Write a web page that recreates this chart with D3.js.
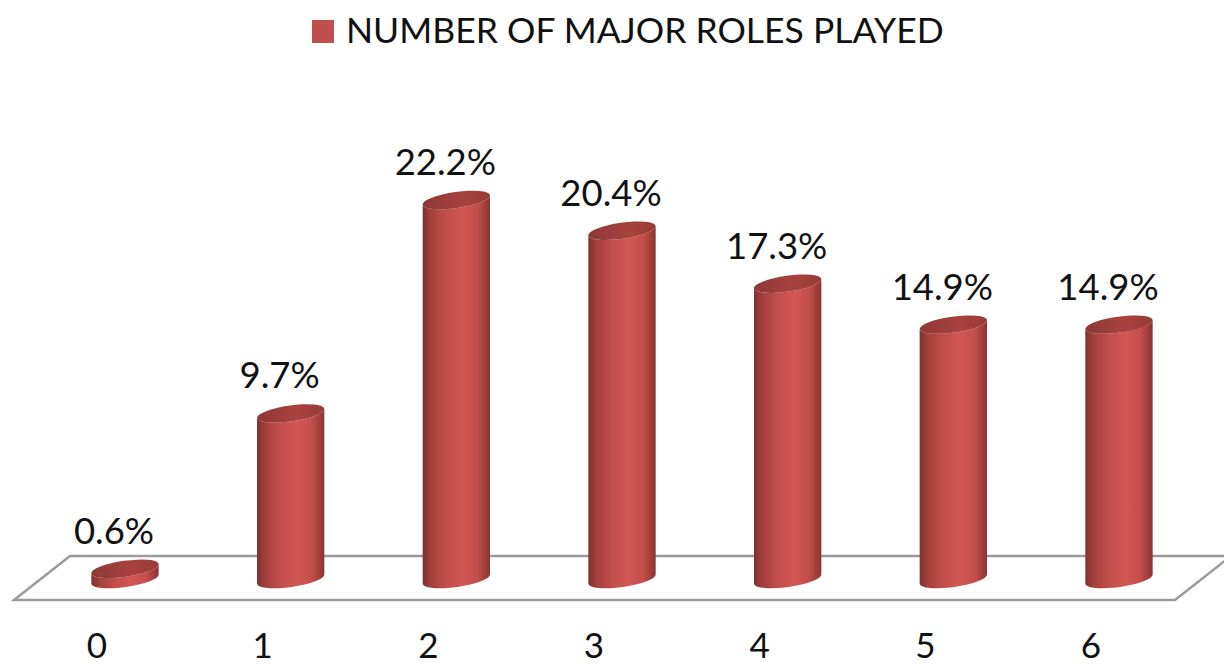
<!DOCTYPE html>
<html><head><meta charset="utf-8">
<script src="https://cdn.jsdelivr.net/npm/d3@7"></script>
<style>html,body{margin:0;padding:0;background:#fff;}svg{display:block;}</style>
</head><body>
<script>
const categories = ["0","1","2","3","4","5","6"];
const values = [0.6, 9.7, 22.2, 20.4, 17.3, 14.9, 14.9];
const valueLabels = ["0.6%","9.7%","22.2%","20.4%","17.3%","14.9%","14.9%"];
const seriesName = "NUMBER OF MAJOR ROLES PLAYED";

const W = 1224, H = 666;
const svg = d3.select("body").append("svg").attr("width", W).attr("height", H);
const font = "Lato, 'Open Sans', sans-serif";

const x = d3.scalePoint().domain(categories).range([125, 1119]);
const base = 579;
const y = d3.scaleLinear().domain([0, 22.2]).range([base, 200]);

const defs = svg.append("defs");
const g = defs.append("linearGradient").attr("id","cyl").attr("x1","0").attr("x2","1").attr("y1","0").attr("y2","0");
[[0,"#7f302e"],[0.12,"#a3403d"],[0.35,"#c24e4b"],[0.6,"#d25754"],[0.82,"#c24e4b"],[1,"#8a3432"]]
  .forEach(([o,c]) => g.append("stop").attr("offset", o).attr("stop-color", c));
const gt = defs.append("linearGradient").attr("id","cyltop").attr("x1","0").attr("x2","1").attr("y1","0").attr("y2","0");
[[0,"#8e3836"],[0.6,"#a9423f"],[1,"#973b39"]]
  .forEach(([o,c]) => gt.append("stop").attr("offset", o).attr("stop-color", c));

// floor
svg.append("polygon")
  .attr("points", "14,600 1175,600 1231,556 70,556")
  .attr("fill", "#fff").attr("stroke", "#9a9a9a").attr("stroke-width", 2.5);

// legend
svg.append("rect").attr("x", 312).attr("y", 20).attr("width", 22).attr("height", 23).attr("fill", "#c0504d");
svg.append("text").attr("x", 346).attr("y", 43).attr("font-family", font).attr("font-size", 35.5)
  .attr("fill", "#111").text(seriesName);

const rx = 34, ry = 8, ang = -8 * Math.PI / 180;
const dx = rx * Math.cos(ang), dy = rx * Math.sin(ang);

const bars = svg.append("g").selectAll("g").data(values).join("g");
bars.each(function(v, i) {
  const cx = x(categories[i]);
  const yt = y(v), yb = base;
  const sel = d3.select(this);
  const p = `M${cx-dx},${yt-dy} L${cx-dx},${yb-dy} A${rx},${ry} -8 0 0 ${cx+dx},${yb+dy} L${cx+dx},${yt+dy} A${rx},${ry} -8 0 1 ${cx-dx},${yt-dy} Z`;
  sel.append("path").attr("d", p).attr("fill", "url(#cyl)");
  sel.append("ellipse").attr("cx", cx).attr("cy", yt).attr("rx", rx).attr("ry", ry)
    .attr("transform", `rotate(-8,${cx},${yt})`).attr("fill", "url(#cyltop)");
});

// value labels
svg.append("g").selectAll("text").data(values).join("text")
  .attr("x", (d, i) => x(categories[i]) - 11)
  .attr("y", d => y(d) - 25)
  .attr("text-anchor", "middle").attr("font-family", font).attr("font-size", 36.5).attr("fill", "#111")
  .text((d, i) => valueLabels[i]);

// category labels
svg.append("g").selectAll("text").data(categories).join("text")
  .attr("x", d => x(d) - 28)
  .attr("y", 658)
  .attr("text-anchor", "middle").attr("font-family", font).attr("font-size", 35).attr("fill", "#111")
  .text(d => d);
</script>
</body></html>
